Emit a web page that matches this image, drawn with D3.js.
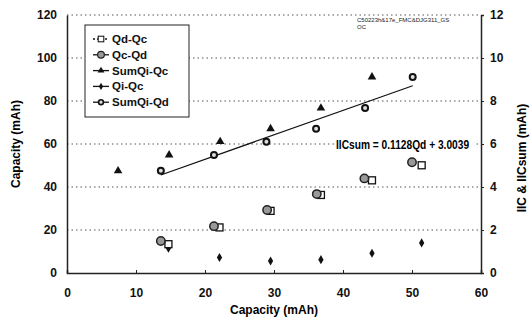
<!DOCTYPE html>
<html>
<head>
<meta charset="utf-8">
<script src="https://cdn.jsdelivr.net/npm/d3@7"></script>
<style>
  body { margin: 0; background: #fff; }
  text { font-family: 'Liberation Sans', Arial, sans-serif; }
</style>
</head>
<body>
<div id="chart"></div>
<script>
// values
const qcQdX = [13.6, 21.3, 29.0, 36.2, 43.1, 50.0];
const qcQdY = [14.9, 21.8, 29.3, 36.7, 44.0, 51.5];
const qdQcX = [14.7, 22.1, 29.5, 36.8, 44.2, 51.4];
const qdQcY = [13.4, 21.2, 28.9, 36.3, 43.1, 50.1];
const sumQiQcX = [7.4, 14.8, 22.2, 29.5, 36.8, 44.2];
const sumQiQcY = [47.5, 54.9, 61.1, 67.1, 76.7, 91.2];
// right axis series (IIC)
const qiQcX = [14.7, 22.1, 29.5, 36.8, 44.2, 51.4];
const qiQcY = [1.15, 0.72, 0.56, 0.62, 0.92, 1.40];
const sumQiQdX = [13.6, 21.3, 28.9, 36.1, 43.2, 50.1];
const sumQiQdY = [4.76, 5.49, 6.11, 6.71, 7.67, 9.12];
const trendX = [13.6, 50.1];
const trendY = [4.56, 8.71];

const xTicks = [0, 10, 20, 30, 40, 50, 60];
const yTicks = [0, 20, 40, 60, 80, 100, 120];
const y2Ticks = [0, 2, 4, 6, 8, 10, 12];
const legendNames = ['Qd-Qc', 'Qc-Qd', 'SumQi-Qc', 'Qi-Qc', 'SumQi-Qd'];

const W = 531, H = 321;
const margin = { left: 67, right: 50, top: 15, bottom: 48 };
const width = W - margin.left - margin.right;
const height = H - margin.top - margin.bottom;

const svg = d3.select('#chart').append('svg')
  .attr('width', W).attr('height', H);
const g = svg.append('g')
  .attr('transform', 'translate(' + margin.left + ',' + margin.top + ')');

const x = d3.scaleLinear().domain([0, 60]).range([0, width]);
const y = d3.scaleLinear().domain([0, 120]).range([height, 0]);
const y2 = d3.scaleLinear().domain([0, 12]).range([height, 0]);

// dotted grid
g.selectAll('.grid').data(yTicks.filter(d => d > 0)).enter()
  .append('line')
  .attr('x1', 0).attr('x2', width)
  .attr('y1', d => y(d)).attr('y2', d => y(d))
  .attr('stroke', '#555').attr('stroke-width', 1)
  .attr('stroke-dasharray', '1.5,3');

// axes
const bold = g => g.selectAll('.tick text')
  .style('font-size', '12px').style('font-weight', 'bold').attr('fill', '#111');

g.append('g')
  .attr('transform', 'translate(0,' + height + ')')
  .call(d3.axisTop(x).tickValues(xTicks).tickSize(3).tickFormat(d3.format('d')))
  .call(g => g.select('.domain').attr('stroke', '#222').attr('stroke-width', 1.5))
  .call(g => g.selectAll('.tick line').attr('stroke', '#222'))
  .call(g => g.selectAll('.tick text').attr('y', 20).attr('dy', '0.32em'))
  .call(bold);

g.append('g')
  .call(d3.axisLeft(y).tickValues(yTicks).tickSize(0).tickPadding(10))
  .call(g => g.select('.domain').attr('stroke', '#222').attr('stroke-width', 1.5))
  .call(bold);

g.append('g')
  .attr('transform', 'translate(' + width + ',0)')
  .call(d3.axisRight(y2).tickValues(y2Ticks).tickSize(3).tickPadding(6))
  .call(g => g.select('.domain').attr('stroke', '#222').attr('stroke-width', 1.5))
  .call(g => g.selectAll('.tick line').attr('stroke', '#222'))
  .call(bold);

// axis titles
svg.append('text')
  .attr('x', margin.left + width / 2).attr('y', 314)
  .attr('text-anchor', 'middle')
  .style('font-size', '12px').style('font-weight', 'bold')
  .text('Capacity (mAh)');
svg.append('text')
  .attr('transform', 'translate(20,' + 144 + ') rotate(-90)')
  .attr('text-anchor', 'middle')
  .style('font-size', '12px').style('font-weight', 'bold')
  .text('Capacity (mAh)');
svg.append('text')
  .attr('transform', 'translate(526,' + 158 + ') rotate(-90)')
  .attr('text-anchor', 'middle')
  .style('font-size', '12px').style('font-weight', 'bold')
  .text('IIC & IICsum (mAh)');

// trend line
g.append('path')
  .attr('d', d3.line().x(d => x(d[0])).y(d => y2(d[1]))(d3.zip(trendX, trendY)))
  .attr('stroke', '#111').attr('stroke-width', 1.2).attr('fill', 'none');

// markers
const markers = {
  'Qd-Qc': sel => sel.append('rect')
    .attr('x', -3.5).attr('y', -3.5).attr('width', 7).attr('height', 7)
    .attr('fill', '#fff').attr('stroke', '#111').attr('stroke-width', 1.3),
  'Qc-Qd': sel => sel.append('circle')
    .attr('r', 4.2).attr('fill', '#999').attr('stroke', '#222').attr('stroke-width', 1.5),
  'SumQi-Qc': sel => sel.append('path')
    .attr('d', d3.symbol(d3.symbolTriangle, 32)()).attr('fill', '#111'),
  'Qi-Qc': sel => sel.append('path')
    .attr('d', d3.symbol(d3.symbolDiamond, 24)()).attr('fill', '#111'),
  'SumQi-Qd': sel => sel.append('circle')
    .attr('r', 3).attr('fill', '#ddd').attr('stroke', '#111').attr('stroke-width', 2)
};

const series = [
  { name: 'SumQi-Qc', xs: sumQiQcX, ys: sumQiQcY, scale: y },
  { name: 'SumQi-Qd', xs: sumQiQdX, ys: sumQiQdY, scale: y2 },
  { name: 'Qi-Qc', xs: qiQcX, ys: qiQcY, scale: y2 },
  { name: 'Qd-Qc', xs: qdQcX, ys: qdQcY, scale: y },
  { name: 'Qc-Qd', xs: qcQdX, ys: qcQdY, scale: y }
];

series.forEach(s => {
  g.selectAll('.pt-' + s.name).data(d3.zip(s.xs, s.ys)).enter()
    .append('g')
    .attr('transform', d => 'translate(' + x(d[0]) + ',' + s.scale(d[1]) + ')')
    .call(markers[s.name]);
});

// run label
const note = svg.append('text')
  .attr('x', 357).attr('y', 22)
  .style('font-size', '6px').attr('fill', '#222');
note.append('tspan').attr('x', 357).text('C50223h&17e_FMC&DJG311_GS');
note.append('tspan').attr('x', 357).attr('dy', 7).text('OC');

// equation, with a white patch so the grid stops at the text
svg.append('rect')
  .attr('x', 334).attr('y', 137).attr('width', 142).attr('height', 15)
  .attr('fill', '#fff');
svg.append('text')
  .attr('transform', 'translate(336,149) scale(0.85,1)')
  .style('font-size', '12px').style('font-weight', 'bold')
  .text('IICsum = 0.1128Qd + 3.0039');

// legend
const legend = svg.append('g').attr('transform', 'translate(85,25)');
legend.append('rect')
  .attr('width', 104).attr('height', 92)
  .attr('fill', '#fff').attr('stroke', '#222').attr('stroke-width', 1);

const items = legend.selectAll('.item').data(legendNames).enter()
  .append('g')
  .attr('transform', (d, i) => 'translate(0,' + (14 + 15.8 * i) + ')');
items.append('line')
  .attr('x1', 8).attr('x2', 24)
  .attr('stroke', '#111').attr('stroke-width', 1.3)
  .attr('stroke-dasharray', d => d === 'Qd-Qc' ? '2,2' : null);
items.append('g')
  .attr('transform', 'translate(16,0) scale(0.8)')
  .each(function (d) { markers[d](d3.select(this)); });
items.append('text')
  .attr('x', 27).attr('dy', '0.35em')
  .style('font-size', '11.5px').style('font-weight', 'bold').attr('fill', '#111')
  .text(d => d);
</script>
</body>
</html>
